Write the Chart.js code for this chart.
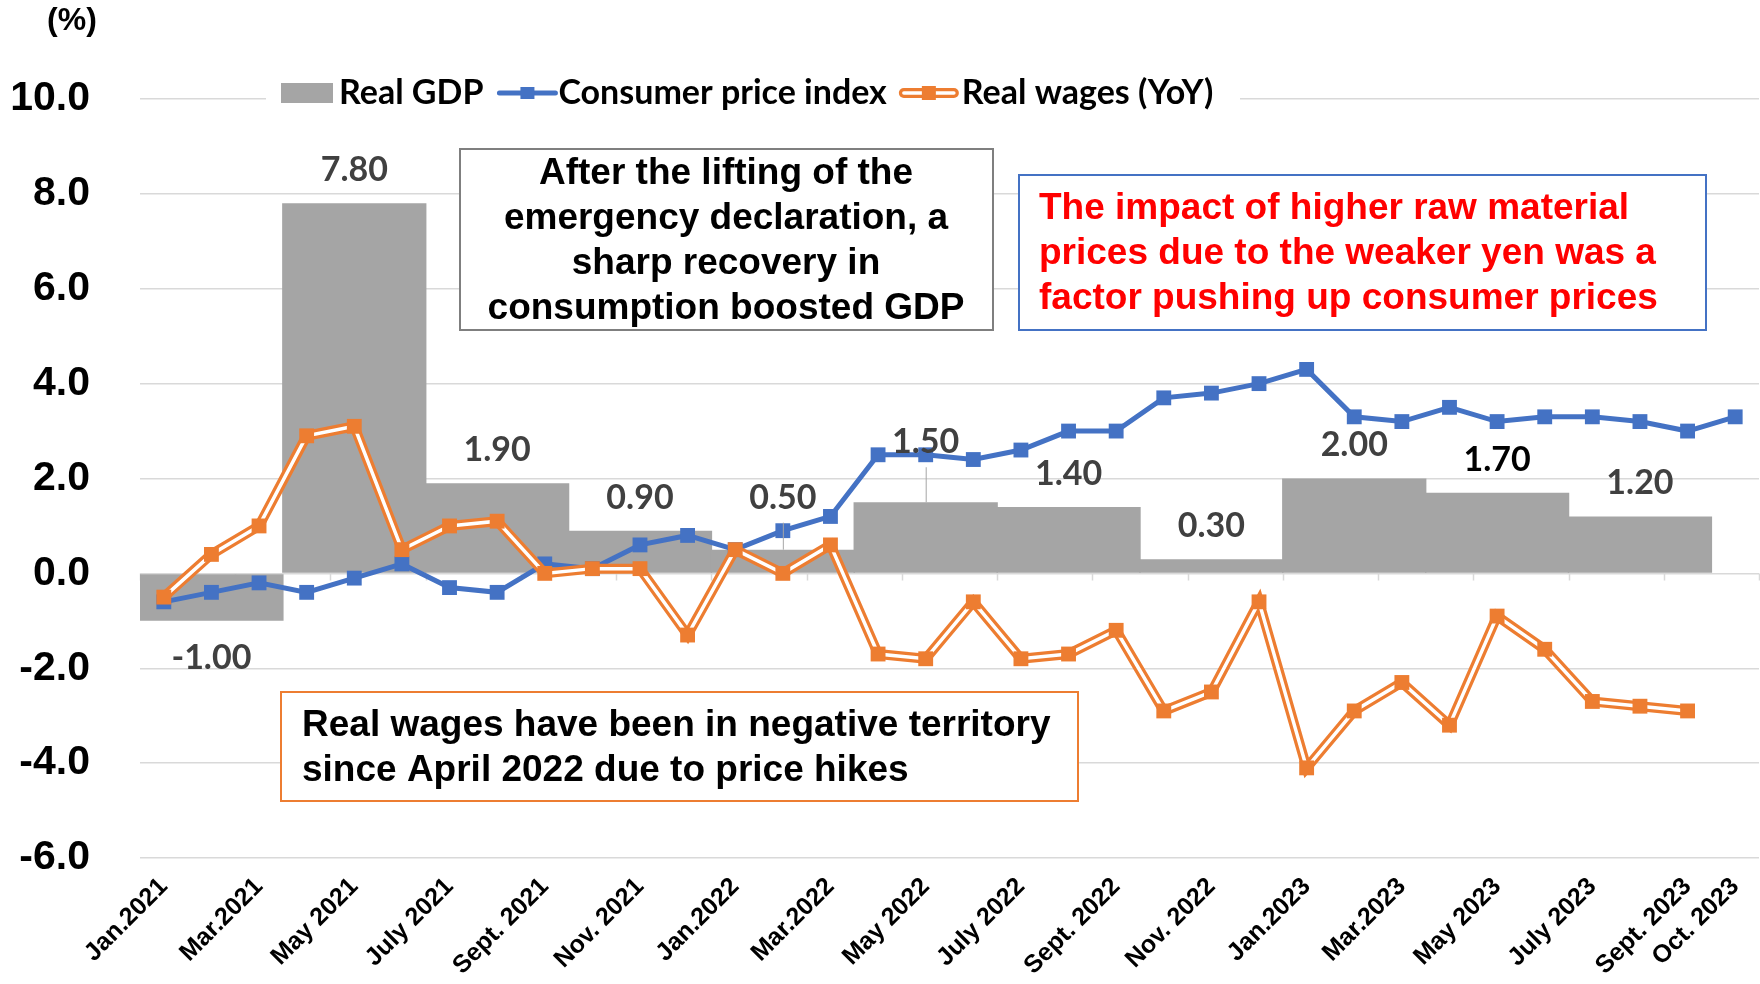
<!DOCTYPE html>
<html>
<head>
<meta charset="utf-8">
<title>Real GDP, CPI and real wages</title>
<script src="https://cdn.jsdelivr.net/npm/chart.js@4.4.1/dist/chart.umd.min.js"></script>
<style>
  html, body { margin: 0; padding: 0; background: #fff; }
</style>
</head>
<body>
<canvas id="chart" width="1760" height="984"></canvas>
<script>
// Monthly axis, Jan 2021 - Oct 2023 (only every other month is labelled)
const monthLabels = [
  'Jan.2021', '', 'Mar.2021', '', 'May 2021', '', 'July 2021', '', 'Sept. 2021', '', 'Nov. 2021', '',
  'Jan.2022', '', 'Mar.2022', '', 'May 2022', '', 'July 2022', '', 'Sept. 2022', '', 'Nov. 2022', '',
  'Jan.2023', '', 'Mar.2023', '', 'May 2023', '', 'July 2023', '', 'Sept. 2023', 'Oct. 2023'
];

// Consumer price index (YoY %), monthly
const cpi = [
  -0.6, -0.4, -0.2, -0.4, -0.1, 0.2, -0.3, -0.4, 0.2, 0.1, 0.6, 0.8,
  0.5, 0.9, 1.2, 2.5, 2.5, 2.4, 2.6, 3.0, 3.0, 3.7, 3.8, 4.0,
  4.3, 3.3, 3.2, 3.5, 3.2, 3.3, 3.3, 3.2, 3.0, 3.3
];

// Real wages (YoY %), monthly, up to Sept 2023
const realWages = [
  -0.5, 0.4, 1.0, 2.9, 3.1, 0.5, 1.0, 1.1, 0.0, 0.1, 0.1, -1.3,
  0.5, 0.0, 0.6, -1.7, -1.8, -0.6, -1.8, -1.7, -1.2, -2.9, -2.5, -0.6,
  -4.1, -2.9, -2.3, -3.2, -0.9, -1.6, -2.7, -2.8, -2.9
];

// Real GDP (annualised %), quarterly, Q1 2021 - Q3 2023
const gdpQuarterly = [-1.0, 7.8, 1.9, 0.9, 0.5, 1.5, 1.4, 0.3, 2.0, 1.7, 1.2];

const yTicks = [-6, -4, -2, 0, 2, 4, 6, 8, 10];

// each quarter's bar sits on the middle month of the quarter
const gdpMonthly = monthLabels.map((_, i) => (i % 3 === 1 && gdpQuarterly[(i - 1) / 3] !== undefined) ? gdpQuarterly[(i - 1) / 3] : null);

const BLUE = '#4472C4';
const ORANGE = '#ED7D31';
const GREY = '#A5A5A5';
const GRID = '#D9D9D9';
const ARIAL = '"Liberation Sans", Arial, sans-serif';
const CALIBRI = 'Lato, "Open Sans", sans-serif';

// extra lift (px) for a couple of hand-placed data labels
const labelLift = { 4: 52, 5: 60 };
const leaderLines = [4, 5];

function drawBox(ctx, x, y, w, h, border, lines, color, align) {
  ctx.save();
  ctx.fillStyle = '#fff';
  ctx.fillRect(x, y, w, h);
  ctx.strokeStyle = border;
  ctx.lineWidth = 2;
  ctx.strokeRect(x, y, w, h);
  ctx.fillStyle = color;
  ctx.font = 'bold 37px ' + ARIAL;
  ctx.textBaseline = 'middle';
  ctx.textAlign = align;
  lines.forEach((l) => ctx.fillText(l.text, l.x, l.y));
  ctx.restore();
}

const overlayPlugin = {
  id: 'overlay',
  beforeDatasetsDraw(chart) {
    // tick marks hanging from the zero line every two months
    const { ctx, scales: { x, y } } = chart;
    const y0 = y.getPixelForValue(0);
    const step = x.getPixelForValue(1) - x.getPixelForValue(0);
    ctx.save();
    ctx.strokeStyle = GRID;
    ctx.lineWidth = 1.5;
    ctx.beginPath();
    for (let i = 0; i <= monthLabels.length; i += 2) {
      const px = Math.round(x.getPixelForValue(0) - step / 2 + i * step) + 0.5;
      ctx.moveTo(px, y0);
      ctx.lineTo(px, y0 + 7);
    }
    ctx.stroke();
    ctx.restore();
  },
  afterDatasetsDraw(chart) {
    const { ctx, scales: { x, y } } = chart;

    // GDP data labels
    ctx.save();
    ctx.font = 'bold 34px ' + CALIBRI;
    ctx.textAlign = 'center';
    ctx.textBaseline = 'middle';
    gdpQuarterly.forEach((v, q) => {
      const px = x.getPixelForValue(q * 3 + 1);
      const py = y.getPixelForValue(v);
      const ly = v >= 0 ? py - (labelLift[q] || 33) : py + 37;
      if (leaderLines.includes(q)) {
        ctx.strokeStyle = '#A6A6A6';
        ctx.lineWidth = 1;
        ctx.beginPath();
        ctx.moveTo(px + 0.5, ly + 25);
        ctx.lineTo(px + 0.5, py);
        ctx.stroke();
      }
      ctx.fillStyle = q === 9 ? '#000' : '#404040';
      ctx.fillText(v.toFixed(2), px, ly);
    });
    ctx.restore();

    // annotation boxes
    drawBox(ctx, 460, 149, 533, 181, '#7F7F7F', [
      { text: 'After the lifting of the', x: 726, y: 174 },
      { text: 'emergency declaration, a', x: 726, y: 219 },
      { text: 'sharp recovery in', x: 726, y: 264 },
      { text: 'consumption boosted GDP', x: 726, y: 309 }
    ], '#000', 'center');
    drawBox(ctx, 1019, 175, 687, 155, BLUE, [
      { text: 'The impact of higher raw material', x: 1039, y: 209 },
      { text: 'prices due to the weaker yen was a', x: 1039, y: 254 },
      { text: 'factor pushing up consumer prices', x: 1039, y: 299 }
    ], '#FF0000', 'left');
    drawBox(ctx, 281, 692, 797, 109, ORANGE, [
      { text: 'Real wages have been in negative territory', x: 302, y: 726 },
      { text: 'since April 2022 due to price hikes', x: 302, y: 771 }
    ], '#000', 'left');

    // legend, sitting on the 10.0 gridline
    const ly = 93;
    ctx.save();
    ctx.fillStyle = '#fff';
    ctx.fillRect(266, ly - 15, 974, 30);
    ctx.font = 'bold 34px ' + CALIBRI;
    ctx.textBaseline = 'middle';
    ctx.textAlign = 'left';
    let cx = 281;
    ctx.fillStyle = GREY;
    ctx.fillRect(cx, ly - 10, 52, 20);
    cx += 58;
    ctx.fillStyle = '#000';
    ctx.fillText('Real GDP', cx, ly);
    cx += ctx.measureText('Real GDP').width + 16;
    ctx.strokeStyle = BLUE;
    ctx.lineWidth = 5;
    ctx.lineCap = 'round';
    ctx.beginPath();
    ctx.moveTo(cx, ly);
    ctx.lineTo(cx + 56, ly);
    ctx.stroke();
    ctx.fillStyle = BLUE;
    ctx.fillRect(cx + 21, ly - 6, 14, 12);
    cx += 59;
    ctx.fillStyle = '#000';
    ctx.fillText('Consumer price index', cx, ly);
    cx += ctx.measureText('Consumer price index').width + 12;
    ctx.strokeStyle = ORANGE;
    ctx.lineWidth = 10;
    ctx.beginPath();
    ctx.moveTo(cx + 5, ly);
    ctx.lineTo(cx + 55, ly);
    ctx.stroke();
    ctx.strokeStyle = '#fff';
    ctx.lineWidth = 3.5;
    ctx.beginPath();
    ctx.moveTo(cx + 5, ly);
    ctx.lineTo(cx + 55, ly);
    ctx.stroke();
    ctx.fillStyle = ORANGE;
    ctx.fillRect(cx + 23, ly - 7, 14, 14);
    cx += 63;
    ctx.fillStyle = '#000';
    ctx.fillText('Real wages (YoY)', cx, ly);

    // unit label
    ctx.font = 'bold 32px ' + ARIAL;
    ctx.textAlign = 'center';
    ctx.fillText('(%)', 72, 21);
    ctx.restore();
  }
};

Chart.defaults.font.family = ARIAL;

new Chart(document.getElementById('chart'), {
  data: {
    labels: monthLabels,
    datasets: [
      {
        type: 'bar',
        label: 'Real GDP',
        data: gdpMonthly,
        backgroundColor: GREY,
        // a touch over three months so neighbouring quarters meet without a seam
        barPercentage: 3.03,
        categoryPercentage: 1,
        order: 5
      },
      {
        type: 'line',
        label: 'Consumer price index',
        data: cpi,
        borderColor: BLUE,
        borderWidth: 5,
        pointStyle: 'rect',
        pointRadius: 10.5,
        pointBorderWidth: 0,
        pointBackgroundColor: BLUE,
        clip: false,
        order: 4
      },
      {
        // double line: thick orange stroke with a white core
        type: 'line',
        label: 'Real wages (YoY)',
        data: realWages,
        borderColor: ORANGE,
        borderWidth: 10,
        pointRadius: 0,
        order: 3
      },
      {
        type: 'line',
        label: '',
        data: realWages,
        borderColor: '#fff',
        borderWidth: 3.5,
        pointRadius: 0,
        order: 2
      },
      {
        type: 'line',
        label: '',
        data: realWages,
        showLine: false,
        pointStyle: 'rect',
        pointRadius: 10.5,
        pointBorderWidth: 0,
        pointBackgroundColor: ORANGE,
        clip: false,
        order: 1
      }
    ]
  },
  options: {
    responsive: false,
    animation: false,
    layout: { autoPadding: false, padding: { top: 99, right: 1, bottom: 0, left: 0 } },
    plugins: {
      legend: { display: false },
      tooltip: { enabled: false }
    },
    scales: {
      x: {
        type: 'category',
        offset: true,
        // invisible tick marks push the labels down without widening the right padding
        grid: { display: true, drawOnChartArea: false, drawTicks: true, tickLength: 14, tickColor: 'rgba(0,0,0,0)' },
        border: { display: false },
        ticks: {
          autoSkip: false,
          maxRotation: 45,
          minRotation: 45,
          padding: 0,
          color: '#000',
          font: { size: 25, weight: 'bold' }
        },
        afterFit(scale) {
          scale.height = 126;
          scale.paddingLeft = 0;
          scale.paddingRight = 0;
        }
      },
      y: {
        min: -6,
        max: 10,
        afterBuildTicks(scale) { scale.ticks = yTicks.map((v) => ({ value: v })); },
        ticks: {
          callback: (v) => v.toFixed(1),
          color: '#000',
          padding: 50,
          font: { size: 41, weight: 'bold' }
        },
        grid: { color: GRID, lineWidth: 1.5, drawTicks: false },
        border: { display: false },
        afterFit(scale) { scale.width = 140; }
      }
    }
  },
  plugins: [overlayPlugin]
});
</script>
</body>
</html>
